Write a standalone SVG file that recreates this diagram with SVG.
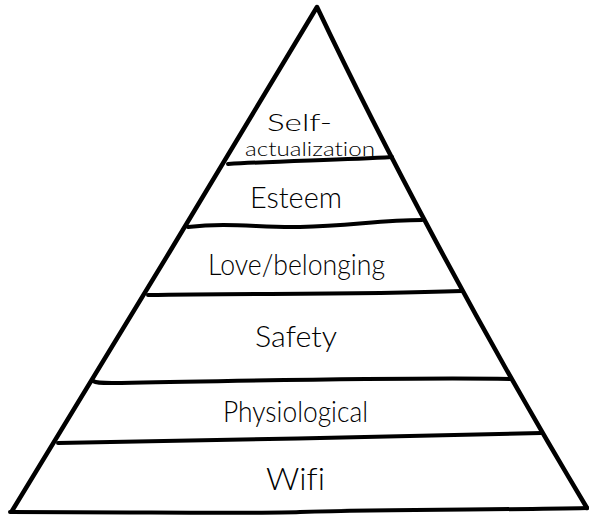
<svg xmlns="http://www.w3.org/2000/svg" width="589" height="517" viewBox="0 0 589 517">
  <style>
    .edge { fill: none; stroke: #000; stroke-width: 4.5; stroke-linecap: round; stroke-linejoin: round; }
    .band { fill: none; stroke: #000; stroke-width: 4; stroke-linecap: round; }
    .lbl { font-family: "Lato", "Open Sans", "Liberation Sans", sans-serif; font-weight: 300; fill: #000; font-variant-ligatures: none; }
  </style>
  <rect width="589" height="517" fill="#fff"/>
  <g id="connectors">
    <path class="edge" d="M12,511 C 110,350 220,170 317,7 C 380,140 480,330 587,508"/>
    <path class="band" d="M228,164 C 280,161 340,160 392,157"/>
    <path class="band" d="M188,227 C 230,222 260,228 300,227 C 350,226 380,220 422,220"/>
    <path class="band" d="M148,295 C 250,293 350,295 462,291"/>
    <path class="band" d="M93,381 C 96,383 100,383 112,383 C 250,381 400,377 510,379"/>
    <path class="band" d="M58,443 C 200,441 400,436 541,433"/>
    <path class="band" d="M10,512 C 150,512 250,514 300,512 C 400,509 500,510 587,508"/>
  </g>
  <g id="self-actualization">
    <text class="lbl" x="267" y="131" font-size="24" textLength="65" lengthAdjust="spacingAndGlyphs">Self-</text>
    <text class="lbl" x="245" y="156" font-size="19" textLength="130" lengthAdjust="spacingAndGlyphs">actualization</text>
  </g>
  <g id="esteem">
    <text class="lbl" x="250" y="208" font-size="29" textLength="92" lengthAdjust="spacingAndGlyphs">Esteem</text>
  </g>
  <g id="love-belonging">
    <text class="lbl" x="208" y="275" font-size="29" textLength="177" lengthAdjust="spacingAndGlyphs">Love/belonging</text>
  </g>
  <g id="safety">
    <text class="lbl" x="255" y="347" font-size="30" textLength="82" lengthAdjust="spacingAndGlyphs">Safety</text>
  </g>
  <g id="physiological">
    <text class="lbl" x="223" y="422" font-size="30" textLength="145" lengthAdjust="spacingAndGlyphs">Physiological</text>
  </g>
  <g id="wifi">
    <text class="lbl" x="266" y="490" font-size="32" textLength="59" lengthAdjust="spacingAndGlyphs">Wifi</text>
  </g>
</svg>
